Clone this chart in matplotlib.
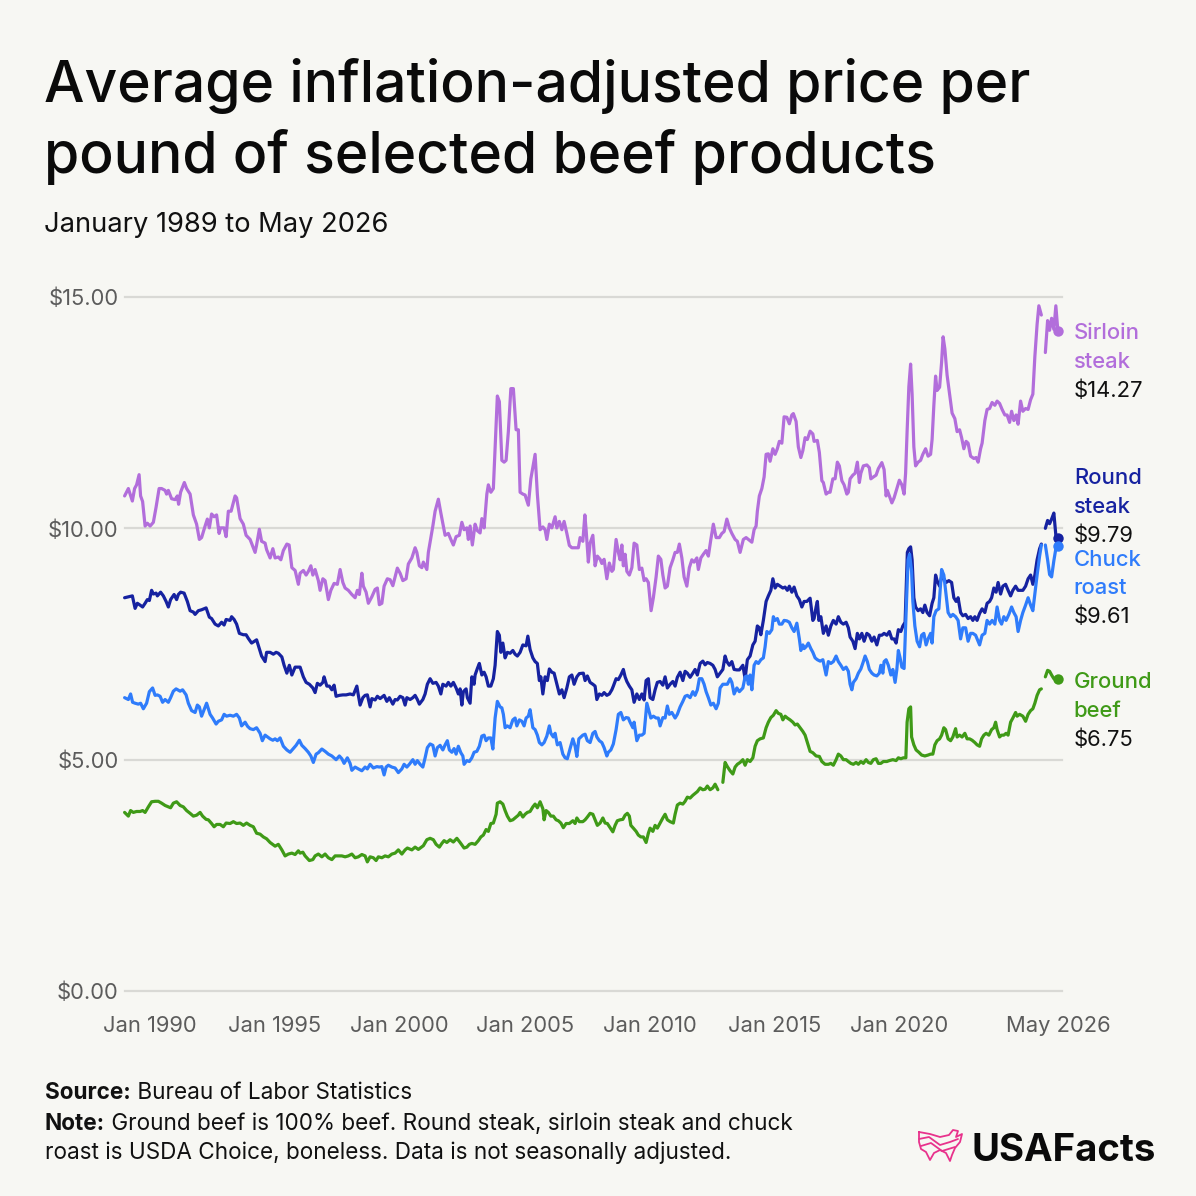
import numpy as np
import matplotlib
matplotlib.use("Agg")
import matplotlib.pyplot as plt
from matplotlib.path import Path
from matplotlib.patches import PathPatch

NAN = np.nan

# ---------------- DATA (decimal year, inflation-adjusted $ per pound) ----------------
sirloin = [
    (1989.00,10.70),(1989.15,10.86),(1989.31,10.59),(1989.40,10.86),(1989.48,10.94),(1989.58,11.16),
    (1989.64,10.70),(1989.72,10.58),(1989.82,10.05),(1989.91,10.11),(1990.02,10.05),(1990.15,10.13),
    (1990.26,10.46),(1990.38,10.86),(1990.48,10.86),(1990.62,10.82),(1990.68,10.74),(1990.75,10.82),
    (1990.88,10.64),(1991.02,10.62),(1991.11,10.70),(1991.16,10.52),(1991.24,10.78),(1991.39,10.99),
    (1991.48,10.86),(1991.62,10.74),(1991.75,10.29),(1991.88,10.09),(1991.99,9.76),(1992.08,9.80),
    (1992.22,10.05),(1992.31,10.20),(1992.39,10.01),(1992.48,10.31),(1992.58,10.25),(1992.68,10.29),
    (1992.78,9.89),(1992.84,10.01),(1992.98,10.01),(1993.06,9.82),(1993.15,10.37),(1993.26,10.37),
    (1993.42,10.70),(1993.48,10.66),(1993.62,10.21),(1993.75,10.09),(1993.86,9.85),(1994.02,9.76),
    (1994.22,9.48),(1994.28,9.64),(1994.39,9.98),(1994.48,9.72),(1994.62,9.68),(1994.68,9.54),
    (1994.82,9.36),(1994.93,9.56),(1995.02,9.36),(1995.15,9.38),(1995.25,9.32),(1995.35,9.52),
    (1995.49,9.66),(1995.58,9.64),(1995.69,9.15),(1995.82,9.09),(1995.95,8.79),(1996.02,9.03),
    (1996.15,9.09),(1996.26,8.99),(1996.35,9.07),(1996.45,9.19),(1996.53,8.99),(1996.62,9.11),
    (1996.75,8.87),(1996.82,8.66),(1996.93,8.91),(1997.02,8.87),(1997.15,8.46),(1997.25,8.66),
    (1997.38,8.81),(1997.51,8.79),(1997.62,9.11),(1997.73,8.83),(1997.82,8.71),(1997.95,8.66),
    (1998.09,8.57),(1998.22,8.50),(1998.31,8.66),(1998.39,8.57),(1998.49,9.03),(1998.55,8.75),
    (1998.66,8.62),(1998.75,8.38),(1998.89,8.52),(1999.02,8.68),(1999.11,8.71),(1999.19,8.35),
    (1999.29,8.38),(1999.38,8.75),(1999.51,8.91),(1999.62,8.89),(1999.73,8.76),(1999.82,8.95),
    (1999.91,9.14),(2000.02,9.03),(2000.13,8.87),(2000.26,8.91),(2000.35,9.23),(2000.49,9.36),
    (2000.62,9.58),(2000.69,9.48),(2000.79,9.19),(2000.89,9.15),(2000.95,9.27),(2001.09,9.11),
    (2001.15,9.48),(2001.25,9.80),(2001.33,10.05),(2001.42,10.37),(2001.55,10.63),(2001.65,10.33),
    (2001.75,10.05),(2001.82,9.85),(2001.95,9.89),(2002.05,9.76),(2002.15,9.64),(2002.26,9.82),
    (2002.39,9.85),(2002.49,10.13),(2002.58,9.97),(2002.69,10.01),(2002.75,9.76),(2002.82,10.05),
    (2002.91,9.64),(2003.02,10.09),(2003.11,9.95),(2003.22,9.90),(2003.29,10.21),(2003.38,10.01),
    (2003.49,10.74),(2003.55,10.94),(2003.65,10.78),(2003.75,10.86),(2003.91,12.86),(2003.99,12.74),
    (2004.09,11.47),(2004.18,11.43),(2004.26,11.47),(2004.35,12.09),(2004.45,13.02),(2004.55,13.02),
    (2004.66,12.13),(2004.75,12.13),(2004.82,10.78),(2004.93,10.74),(2005.02,10.72),(2005.15,10.50),
    (2005.25,11.07),(2005.35,11.39),(2005.42,11.60),(2005.51,10.74),(2005.62,9.97),(2005.73,10.03),
    (2005.82,9.97),(2005.89,9.76),(2005.99,10.09),(2006.09,10.01),(2006.22,10.25),(2006.29,10.01),
    (2006.39,10.15),(2006.49,9.97),(2006.58,10.15),(2006.69,9.89),(2006.79,9.63),(2006.89,9.58),
    (2007.02,9.58),(2007.15,9.58),(2007.22,9.80),(2007.33,9.72),(2007.41,10.29),(2007.46,9.97),
    (2007.55,9.27),(2007.62,9.68),(2007.73,9.85),(2007.82,9.19),(2007.91,9.40),(2008.02,9.33),
    (2008.09,9.24),(2008.18,9.33),(2008.29,8.91),(2008.39,9.25),(2008.49,9.07),(2008.55,9.11),
    (2008.66,9.76),(2008.75,9.48),(2008.82,9.32),(2008.89,9.64),(2008.95,9.19),(2009.02,9.44),
    (2009.09,9.07),(2009.19,8.99),(2009.29,9.15),(2009.38,9.68),(2009.49,9.64),(2009.59,9.11),
    (2009.69,9.14),(2009.78,8.87),(2009.86,8.91),(2009.95,8.83),(2010.06,8.22),(2010.15,8.50),
    (2010.26,8.95),(2010.35,9.40),(2010.45,9.33),(2010.53,8.99),(2010.62,8.71),(2010.71,8.75),
    (2010.82,9.15),(2010.93,9.32),(2011.02,9.48),(2011.11,9.48),(2011.19,9.66),(2011.29,9.36),
    (2011.38,8.95),(2011.49,8.75),(2011.59,9.15),(2011.69,9.32),(2011.78,9.27),(2011.89,9.36),
    (2011.95,9.11),(2012.05,9.36),(2012.15,9.44),(2012.26,9.52),(2012.35,9.40),(2012.45,9.76),
    (2012.55,10.09),(2012.66,9.80),(2012.79,9.80),(2012.89,9.89),(2012.98,9.93),(2013.09,10.20),
    (2013.19,10.01),(2013.29,9.89),(2013.42,9.76),(2013.51,9.72),(2013.62,9.48),(2013.75,9.76),
    (2013.86,9.80),(2013.95,9.76),(2014.09,9.70),(2014.18,9.97),(2014.26,10.05),(2014.31,10.37),
    (2014.39,10.70),(2014.49,10.86),(2014.58,11.11),(2014.66,11.60),(2014.75,11.61),(2014.82,11.45),
    (2014.93,11.72),(2015.02,11.60),(2015.11,11.72),(2015.19,11.88),(2015.29,11.84),(2015.38,12.41),
    (2015.49,12.40),(2015.59,12.26),(2015.69,12.45),(2015.75,12.48),(2015.86,12.31),(2015.95,11.76),
    (2016.05,11.53),(2016.13,11.68),(2016.22,11.96),(2016.31,11.92),(2016.42,12.10),(2016.53,12.04),
    (2016.58,11.88),(2016.71,11.90),(2016.79,11.64),(2016.89,11.03),(2016.95,10.99),(2017.06,10.74),
    (2017.15,10.78),(2017.22,10.78),(2017.33,11.07),(2017.42,11.07),(2017.51,11.43),(2017.59,11.35),
    (2017.69,11.03),(2017.78,10.94),(2017.89,10.74),(2017.95,10.78),(2018.02,11.07),(2018.13,11.15),
    (2018.22,11.19),(2018.31,11.43),(2018.39,10.99),(2018.45,11.19),(2018.55,11.35),(2018.69,11.37),
    (2018.79,11.31),(2018.85,11.07),(2018.95,11.11),(2019.06,11.15),(2019.15,11.29),(2019.29,11.42),
    (2019.38,11.27),(2019.46,10.70),(2019.51,10.82),(2019.59,10.70),(2019.69,10.55),(2019.78,10.66),
    (2019.89,10.86),(2019.99,11.04),(2020.09,10.94),(2020.18,10.74),(2020.24,11.19),(2020.30,12.09),
    (2020.37,13.06),(2020.44,13.55),(2020.50,12.90),(2020.57,11.76),(2020.64,11.35),(2020.74,11.43),
    (2020.84,11.47),(2020.93,11.60),(2021.04,11.72),(2021.14,11.56),(2021.24,11.60),(2021.30,11.92),
    (2021.37,12.66),(2021.44,13.29),(2021.50,12.98),(2021.60,13.05),(2021.68,13.59),(2021.74,14.14),
    (2021.81,13.88),(2021.90,13.31),(2022.00,12.90),(2022.10,12.49),(2022.21,12.37),(2022.30,12.09),
    (2022.40,12.13),(2022.48,11.96),(2022.57,11.72),(2022.66,11.88),(2022.74,11.84),(2022.84,11.56),
    (2022.97,11.51),(2023.06,11.53),(2023.14,11.43),(2023.24,11.72),(2023.30,11.84),(2023.41,12.33),
    (2023.50,12.57),(2023.60,12.59),(2023.70,12.72),(2023.81,12.66),(2023.90,12.75),(2024.00,12.70),
    (2024.10,12.57),(2024.21,12.45),(2024.30,12.45),(2024.40,12.29),(2024.48,12.53),(2024.57,12.33),
    (2024.66,12.45),(2024.74,12.25),(2024.84,12.75),(2024.93,12.53),(2025.04,12.59),(2025.14,12.57),
    (2025.24,12.78),(2025.33,12.90),(2025.41,13.71),(2025.50,14.41),(2025.57,14.81),(2025.67,14.61),
    (2025.75,NAN),
    (2025.83,13.80),(2025.92,14.49),(2026.00,14.28),(2026.08,14.54),(2026.17,14.30),(2026.25,14.81),
    (2026.33,14.27),
]

round_steak = [
    (1989.00,8.50),(1989.15,8.52),(1989.31,8.54),(1989.42,8.27),(1989.51,8.38),(1989.62,8.34),
    (1989.72,8.30),(1989.82,8.38),(1989.91,8.46),(1989.99,8.44),(1990.08,8.66),(1990.15,8.58),
    (1990.26,8.60),(1990.31,8.54),(1990.44,8.62),(1990.55,8.54),(1990.66,8.42),(1990.75,8.30),
    (1990.84,8.46),(1990.98,8.57),(1991.08,8.46),(1991.15,8.57),(1991.24,8.62),(1991.38,8.60),
    (1991.51,8.42),(1991.62,8.22),(1991.75,8.19),(1991.82,8.14),(1991.95,8.22),(1992.08,8.24),
    (1992.26,8.28),(1992.39,8.08),(1992.48,8.05),(1992.62,7.93),(1992.75,7.89),(1992.88,7.97),
    (1992.98,7.91),(1993.06,8.03),(1993.22,8.01),(1993.28,8.09),(1993.38,8.03),(1993.48,7.93),
    (1993.59,7.73),(1993.75,7.70),(1993.86,7.70),(1993.95,7.62),(1994.08,7.52),(1994.28,7.59),
    (1994.39,7.40),(1994.48,7.24),(1994.62,7.12),(1994.68,7.32),(1994.82,7.32),(1994.95,7.28),
    (1995.06,7.32),(1995.15,7.30),(1995.29,7.22),(1995.38,7.04),(1995.49,6.87),(1995.59,7.04),
    (1995.69,6.83),(1995.82,7.00),(1995.91,7.00),(1996.02,7.00),(1996.15,6.79),(1996.26,6.67),
    (1996.39,6.63),(1996.53,6.55),(1996.62,6.45),(1996.71,6.65),(1996.82,6.61),(1996.93,6.67),
    (1996.98,6.79),(1997.09,6.59),(1997.19,6.59),(1997.29,6.51),(1997.38,6.61),(1997.46,6.37),
    (1997.59,6.39),(1997.73,6.40),(1997.86,6.40),(1998.02,6.42),(1998.15,6.40),(1998.29,6.59),
    (1998.35,6.39),(1998.42,6.18),(1998.53,6.34),(1998.62,6.39),(1998.71,6.40),(1998.82,6.14),
    (1998.89,6.32),(1999.02,6.29),(1999.11,6.37),(1999.22,6.32),(1999.38,6.39),(1999.49,6.26),
    (1999.59,6.34),(1999.73,6.20),(1999.82,6.30),(1999.91,6.29),(2000.02,6.37),(2000.13,6.34),
    (2000.22,6.18),(2000.29,6.34),(2000.42,6.30),(2000.53,6.34),(2000.62,6.39),(2000.71,6.30),
    (2000.79,6.20),(2000.93,6.30),(2001.02,6.42),(2001.11,6.63),(2001.22,6.75),(2001.33,6.65),
    (2001.46,6.67),(2001.55,6.59),(2001.65,6.42),(2001.73,6.63),(2001.86,6.59),(2001.95,6.67),
    (2002.05,6.59),(2002.15,6.67),(2002.26,6.55),(2002.35,6.42),(2002.42,6.53),(2002.49,6.18),
    (2002.55,6.47),(2002.66,6.53),(2002.71,6.34),(2002.82,6.22),(2002.89,6.79),(2002.98,6.63),
    (2003.02,6.83),(2003.11,6.97),(2003.19,7.08),(2003.29,6.83),(2003.38,6.89),(2003.46,6.79),
    (2003.55,6.59),(2003.65,6.59),(2003.75,6.75),(2003.82,7.04),(2003.91,7.77),(2003.99,7.69),
    (2004.05,7.32),(2004.13,7.52),(2004.22,7.20),(2004.31,7.32),(2004.42,7.30),(2004.53,7.36),
    (2004.62,7.28),(2004.71,7.24),(2004.82,7.32),(2004.93,7.48),(2005.06,7.46),(2005.13,7.67),
    (2005.22,7.38),(2005.33,7.20),(2005.42,7.12),(2005.51,7.08),(2005.59,6.71),(2005.65,6.79),
    (2005.73,6.42),(2005.82,6.79),(2005.91,6.71),(2005.99,6.96),(2006.09,6.89),(2006.18,6.87),
    (2006.29,6.63),(2006.39,6.42),(2006.49,6.51),(2006.58,6.34),(2006.69,6.55),(2006.79,6.79),
    (2006.89,6.83),(2006.98,6.63),(2007.09,6.79),(2007.19,6.86),(2007.35,6.87),(2007.42,6.71),
    (2007.51,6.81),(2007.62,6.67),(2007.73,6.63),(2007.82,6.59),(2007.89,6.30),(2007.99,6.42),
    (2008.09,6.39),(2008.18,6.45),(2008.29,6.39),(2008.39,6.42),(2008.49,6.51),(2008.55,6.59),
    (2008.66,6.75),(2008.75,6.73),(2008.85,6.83),(2008.95,6.95),(2009.02,6.79),(2009.09,6.69),
    (2009.19,6.59),(2009.29,6.51),(2009.38,6.24),(2009.49,6.42),(2009.59,6.30),(2009.69,6.42),
    (2009.78,6.29),(2009.86,6.71),(2009.95,6.75),(2010.02,6.34),(2010.13,6.30),(2010.22,6.51),
    (2010.31,6.67),(2010.42,6.69),(2010.53,6.61),(2010.62,6.79),(2010.71,6.55),(2010.82,6.63),
    (2010.93,6.69),(2011.02,6.59),(2011.11,6.78),(2011.22,6.89),(2011.33,6.71),(2011.42,6.91),
    (2011.51,6.87),(2011.62,6.78),(2011.73,6.87),(2011.82,6.95),(2011.91,6.83),(2012.02,7.08),
    (2012.13,7.13),(2012.22,7.05),(2012.31,7.10),(2012.42,7.08),(2012.53,7.04),(2012.62,6.95),
    (2012.71,6.79),(2012.82,6.87),(2012.93,6.95),(2013.02,7.24),(2013.09,7.12),(2013.19,7.04),
    (2013.29,7.12),(2013.38,6.95),(2013.49,6.94),(2013.59,6.94),(2013.73,7.04),(2013.82,6.75),
    (2013.91,7.16),(2014.02,7.24),(2014.13,7.48),(2014.22,7.56),(2014.31,7.89),(2014.39,7.85),
    (2014.45,7.70),(2014.55,8.01),(2014.66,8.42),(2014.75,8.54),(2014.85,8.66),(2014.93,8.91),
    (2015.02,8.71),(2015.11,8.79),(2015.22,8.75),(2015.33,8.71),(2015.42,8.73),(2015.51,8.66),
    (2015.59,8.75),(2015.69,8.62),(2015.78,8.73),(2015.89,8.54),(2015.99,8.46),(2016.09,8.30),
    (2016.18,8.42),(2016.29,8.42),(2016.42,8.49),(2016.53,8.01),(2016.58,8.05),(2016.66,8.30),
    (2016.71,8.42),(2016.77,8.01),(2016.85,8.09),(2016.95,7.73),(2017.06,7.89),(2017.15,7.69),
    (2017.25,7.89),(2017.35,8.01),(2017.46,7.93),(2017.55,8.09),(2017.65,7.97),(2017.75,7.93),
    (2017.86,7.97),(2017.95,7.85),(2018.02,7.65),(2018.13,7.56),(2018.22,7.40),(2018.31,7.73),
    (2018.39,7.61),(2018.49,7.73),(2018.58,7.56),(2018.69,7.73),(2018.79,7.69),(2018.89,7.56),
    (2018.98,7.65),(2019.09,7.48),(2019.19,7.69),(2019.29,7.69),(2019.38,7.73),(2019.49,7.69),
    (2019.59,7.77),(2019.69,7.61),(2019.78,7.61),(2019.86,7.52),(2019.95,7.81),(2020.05,7.77),
    (2020.13,7.89),(2020.22,7.97),(2020.26,8.66),(2020.31,9.48),(2020.37,9.56),(2020.44,9.60),
    (2020.50,9.32),(2020.57,8.50),(2020.64,8.30),(2020.74,8.22),(2020.84,8.26),(2020.93,8.18),
    (2021.01,8.34),(2021.10,8.18),(2021.20,8.11),(2021.30,8.38),(2021.37,8.50),(2021.44,8.99),
    (2021.50,8.87),(2021.60,8.75),(2021.68,8.95),(2021.77,8.91),(2021.86,8.83),(2021.97,8.87),
    (2022.08,8.83),(2022.17,8.50),(2022.26,8.42),(2022.34,8.50),(2022.44,8.18),(2022.53,8.11),
    (2022.64,8.14),(2022.74,8.05),(2022.84,8.09),(2022.93,8.01),(2023.01,8.09),(2023.10,8.01),
    (2023.20,8.16),(2023.30,8.26),(2023.41,8.18),(2023.50,8.38),(2023.60,8.42),(2023.68,8.50),
    (2023.77,8.71),(2023.86,8.62),(2023.94,8.83),(2024.04,8.58),(2024.13,8.75),(2024.24,8.79),
    (2024.34,8.66),(2024.44,8.54),(2024.53,8.66),(2024.64,8.75),(2024.74,8.66),(2024.84,8.66),
    (2024.93,8.66),(2025.04,8.75),(2025.14,8.91),(2025.24,8.99),(2025.33,8.79),(2025.41,8.99),
    (2025.50,9.32),(2025.60,9.56),(2025.67,9.66),
    (2025.75,NAN),
    (2025.83,10.00),(2025.92,10.17),(2026.00,10.10),(2026.08,10.20),(2026.17,10.33),(2026.25,9.85),
    (2026.33,9.79),
]

chuck_roast = [
    (1989.00,6.34),(1989.15,6.30),(1989.24,6.42),(1989.32,6.24),(1989.42,6.22),(1989.55,6.20),
    (1989.64,6.22),(1989.75,6.10),(1989.88,6.22),(1989.99,6.47),(1990.12,6.55),(1990.22,6.39),
    (1990.31,6.40),(1990.42,6.37),(1990.52,6.24),(1990.62,6.30),(1990.75,6.24),(1990.84,6.34),
    (1990.95,6.48),(1991.06,6.53),(1991.22,6.48),(1991.32,6.51),(1991.46,6.40),(1991.55,6.22),
    (1991.68,6.06),(1991.82,6.02),(1991.91,6.18),(1991.99,6.14),(1992.08,5.94),(1992.18,6.08),
    (1992.28,6.22),(1992.42,5.98),(1992.52,5.90),(1992.66,5.77),(1992.75,5.83),(1992.88,5.86),
    (1992.98,5.98),(1993.08,5.94),(1993.22,5.96),(1993.35,5.94),(1993.48,5.98),(1993.59,5.90),
    (1993.68,5.73),(1993.82,5.81),(1993.92,5.72),(1994.02,5.67),(1994.15,5.65),(1994.28,5.69),
    (1994.42,5.57),(1994.51,5.41),(1994.62,5.53),(1994.82,5.45),(1994.93,5.42),(1995.02,5.45),
    (1995.11,5.41),(1995.22,5.47),(1995.35,5.29),(1995.49,5.21),(1995.62,5.16),(1995.75,5.24),
    (1995.86,5.31),(1995.99,5.42),(1996.09,5.31),(1996.22,5.24),(1996.35,5.16),(1996.45,5.08),
    (1996.55,4.94),(1996.66,5.12),(1996.75,5.15),(1996.89,5.23),(1997.02,5.18),(1997.15,5.12),
    (1997.29,5.08),(1997.46,5.00),(1997.59,5.08),(1997.69,5.02),(1997.78,4.92),(1997.91,5.04),
    (1998.02,4.92),(1998.09,4.77),(1998.22,4.84),(1998.35,4.80),(1998.49,4.76),(1998.62,4.84),
    (1998.71,4.80),(1998.82,4.90),(1998.95,4.82),(1999.09,4.85),(1999.19,4.84),(1999.29,4.85),
    (1999.38,4.67),(1999.46,4.84),(1999.55,4.88),(1999.69,4.84),(1999.82,4.82),(1999.95,4.72),
    (2000.09,4.80),(2000.18,4.90),(2000.29,4.84),(2000.39,4.90),(2000.53,5.00),(2000.62,4.90),
    (2000.71,4.98),(2000.82,4.90),(2000.93,4.84),(2001.02,5.04),(2001.11,5.26),(2001.22,5.34),
    (2001.33,5.31),(2001.42,5.08),(2001.51,5.26),(2001.62,5.31),(2001.73,5.21),(2001.82,5.32),
    (2001.91,5.41),(2001.99,5.21),(2002.09,5.16),(2002.18,5.24),(2002.26,5.12),(2002.35,5.29),
    (2002.45,5.15),(2002.53,5.08),(2002.58,4.90),(2002.69,4.98),(2002.79,4.96),(2002.89,5.04),
    (2002.98,5.16),(2003.09,5.18),(2003.19,5.29),(2003.29,5.51),(2003.38,5.53),(2003.46,5.41),
    (2003.55,5.47),(2003.65,5.47),(2003.73,5.23),(2003.82,5.90),(2003.91,6.26),(2004.02,6.14),
    (2004.09,6.12),(2004.15,5.98),(2004.22,5.69),(2004.31,5.73),(2004.42,5.69),(2004.53,5.86),
    (2004.62,5.90),(2004.69,5.73),(2004.79,5.86),(2004.89,5.83),(2004.98,5.73),(2005.06,5.90),
    (2005.15,5.94),(2005.22,6.08),(2005.33,5.69),(2005.42,5.65),(2005.51,5.53),(2005.59,5.37),
    (2005.69,5.32),(2005.78,5.37),(2005.89,5.51),(2005.99,5.73),(2006.05,5.57),(2006.15,5.49),
    (2006.22,5.57),(2006.31,5.32),(2006.42,5.37),(2006.53,5.12),(2006.62,5.04),(2006.71,5.02),
    (2006.82,5.24),(2006.93,5.45),(2007.02,5.29),(2007.09,5.07),(2007.17,5.45),(2007.33,5.53),
    (2007.42,5.55),(2007.51,5.41),(2007.62,5.37),(2007.73,5.57),(2007.82,5.61),(2007.89,5.49),
    (2007.99,5.41),(2008.09,5.37),(2008.18,5.26),(2008.29,5.08),(2008.35,5.16),(2008.45,5.21),
    (2008.55,5.34),(2008.66,5.65),(2008.75,5.98),(2008.85,6.02),(2008.95,5.86),(2009.06,5.91),
    (2009.15,5.90),(2009.22,5.81),(2009.33,5.69),(2009.38,5.81),(2009.49,5.41),(2009.59,5.53),
    (2009.69,5.53),(2009.78,5.57),(2009.89,6.22),(2009.95,6.10),(2010.05,5.90),(2010.15,5.94),
    (2010.26,5.90),(2010.35,5.90),(2010.42,5.73),(2010.53,5.91),(2010.62,5.90),(2010.71,6.16),
    (2010.79,5.98),(2010.89,6.02),(2011.02,5.90),(2011.11,5.98),(2011.22,6.14),(2011.33,6.26),
    (2011.42,6.37),(2011.51,6.39),(2011.62,6.34),(2011.73,6.47),(2011.82,6.39),(2011.91,6.51),
    (2011.99,6.75),(2012.09,6.75),(2012.18,6.63),(2012.26,6.47),(2012.35,6.34),(2012.45,6.18),
    (2012.55,6.22),(2012.66,6.10),(2012.75,6.22),(2012.82,6.55),(2012.93,6.63),(2013.02,6.63),
    (2013.11,6.63),(2013.22,6.75),(2013.29,6.67),(2013.38,6.42),(2013.49,6.55),(2013.59,6.47),
    (2013.73,6.55),(2013.82,6.79),(2013.89,6.81),(2013.95,6.63),(2014.02,6.83),(2014.09,6.51),
    (2014.18,7.04),(2014.26,7.12),(2014.35,7.08),(2014.45,7.16),(2014.55,7.20),(2014.62,7.44),
    (2014.69,7.77),(2014.79,7.73),(2014.89,7.81),(2014.95,8.09),(2015.02,8.01),(2015.11,8.05),
    (2015.19,7.93),(2015.29,7.93),(2015.38,8.01),(2015.49,8.00),(2015.59,7.97),(2015.69,7.85),
    (2015.78,7.77),(2015.89,7.95),(2015.99,7.61),(2016.05,7.36),(2016.13,7.48),(2016.18,7.40),
    (2016.26,7.44),(2016.35,7.52),(2016.45,7.40),(2016.53,7.32),(2016.62,7.20),(2016.71,7.16),
    (2016.82,7.13),(2016.93,7.16),(2017.06,6.83),(2017.15,7.12),(2017.25,7.08),(2017.35,7.12),
    (2017.46,7.24),(2017.55,7.12),(2017.65,7.04),(2017.75,6.95),(2017.86,7.00),(2017.95,6.91),
    (2018.02,6.63),(2018.09,6.51),(2018.15,6.67),(2018.26,6.75),(2018.35,6.87),(2018.45,6.96),
    (2018.55,7.12),(2018.62,7.24),(2018.71,7.12),(2018.79,6.95),(2018.89,6.87),(2018.98,6.83),
    (2019.09,6.81),(2019.19,6.87),(2019.25,7.04),(2019.33,6.87),(2019.38,7.12),(2019.46,7.16),
    (2019.55,7.04),(2019.65,6.83),(2019.73,6.95),(2019.82,6.67),(2019.89,6.95),(2019.95,7.36),
    (2020.02,7.20),(2020.09,7.00),(2020.18,6.97),(2020.26,8.18),(2020.34,9.32),(2020.40,9.44),
    (2020.48,9.07),(2020.53,8.42),(2020.61,7.89),(2020.70,7.56),(2020.80,7.44),(2020.88,7.69),
    (2020.97,7.73),(2021.06,7.48),(2021.14,7.61),(2021.24,7.73),(2021.30,7.52),(2021.37,8.09),
    (2021.46,8.22),(2021.57,8.26),(2021.68,9.11),(2021.77,8.99),(2021.84,8.66),(2021.94,8.18),
    (2022.04,8.09),(2022.13,8.14),(2022.24,8.09),(2022.34,8.01),(2022.44,7.61),(2022.53,7.85),
    (2022.64,7.85),(2022.74,7.56),(2022.84,7.73),(2022.93,7.73),(2023.04,7.69),(2023.10,7.61),
    (2023.20,7.48),(2023.30,7.69),(2023.41,7.73),(2023.50,8.01),(2023.60,7.93),(2023.70,8.01),
    (2023.81,7.93),(2023.90,8.30),(2024.00,8.01),(2024.08,7.93),(2024.17,8.09),(2024.26,8.01),
    (2024.37,8.14),(2024.48,8.30),(2024.57,8.18),(2024.66,8.09),(2024.74,7.77),(2024.84,8.01),
    (2024.93,8.18),(2025.04,8.34),(2025.14,8.50),(2025.24,8.34),(2025.33,8.22),(2025.41,8.58),
    (2025.50,8.99),(2025.60,9.40),(2025.67,9.64),
    (2025.75,NAN),
    (2025.83,9.64),(2025.92,9.32),(2026.00,9.00),(2026.08,8.95),(2026.17,9.30),(2026.25,9.56),
    (2026.33,9.61),
]

ground_beef = [
    (1989.00,3.86),(1989.15,3.78),(1989.24,3.90),(1989.35,3.86),(1989.48,3.88),(1989.62,3.88),
    (1989.72,3.90),(1989.82,3.86),(1989.95,3.98),(1990.08,4.09),(1990.22,4.10),(1990.35,4.10),
    (1990.48,4.06),(1990.62,4.01),(1990.75,3.98),(1990.84,3.96),(1990.95,4.06),(1991.08,4.09),
    (1991.22,4.01),(1991.35,3.98),(1991.48,3.90),(1991.62,3.84),(1991.75,3.78),(1991.88,3.80),
    (1992.02,3.86),(1992.12,3.78),(1992.26,3.71),(1992.35,3.70),(1992.48,3.62),(1992.58,3.55),
    (1992.68,3.60),(1992.82,3.60),(1992.95,3.55),(1993.06,3.63),(1993.22,3.62),(1993.35,3.66),
    (1993.48,3.62),(1993.62,3.63),(1993.75,3.58),(1993.88,3.63),(1994.02,3.58),(1994.15,3.55),
    (1994.28,3.41),(1994.42,3.39),(1994.55,3.33),(1994.68,3.29),(1994.82,3.21),(1995.02,3.13),
    (1995.15,3.17),(1995.29,3.05),(1995.42,2.92),(1995.55,2.96),(1995.69,2.98),(1995.82,2.95),
    (1995.95,3.03),(1996.02,2.98),(1996.13,3.00),(1996.22,2.92),(1996.39,2.82),(1996.53,2.84),
    (1996.62,2.92),(1996.75,2.96),(1996.89,2.90),(1997.02,2.96),(1997.15,2.88),(1997.29,2.84),
    (1997.42,2.92),(1997.55,2.92),(1997.69,2.92),(1997.82,2.90),(1997.95,2.92),(1998.09,2.96),
    (1998.22,2.88),(1998.35,2.90),(1998.49,2.95),(1998.62,2.92),(1998.71,2.79),(1998.82,2.90),
    (1998.95,2.88),(1999.06,2.82),(1999.15,2.90),(1999.29,2.88),(1999.42,2.92),(1999.55,2.90),
    (1999.69,2.96),(1999.82,2.98),(1999.95,3.05),(2000.09,2.96),(2000.22,3.05),(2000.31,3.09),
    (2000.49,3.05),(2000.62,3.11),(2000.75,3.06),(2000.95,3.14),(2001.09,3.27),(2001.22,3.30),
    (2001.35,3.27),(2001.46,3.17),(2001.59,3.11),(2001.69,3.19),(2001.78,3.25),(2001.89,3.21),
    (2002.02,3.27),(2002.15,3.22),(2002.29,3.30),(2002.42,3.21),(2002.58,3.09),(2002.69,3.11),
    (2002.79,3.17),(2002.89,3.19),(2003.02,3.17),(2003.15,3.25),(2003.25,3.33),(2003.35,3.37),
    (2003.46,3.49),(2003.55,3.45),(2003.65,3.62),(2003.75,3.63),(2003.86,3.82),(2003.91,4.06),
    (2004.02,4.09),(2004.13,4.04),(2004.22,3.90),(2004.31,3.78),(2004.42,3.68),(2004.53,3.70),
    (2004.62,3.74),(2004.75,3.80),(2004.82,3.86),(2004.93,3.76),(2005.02,3.82),(2005.11,3.86),
    (2005.22,3.88),(2005.33,3.98),(2005.42,4.04),(2005.51,3.96),(2005.62,4.09),(2005.73,3.94),
    (2005.78,3.70),(2005.86,3.90),(2005.95,3.86),(2006.05,3.78),(2006.15,3.78),(2006.26,3.70),
    (2006.35,3.68),(2006.45,3.63),(2006.55,3.53),(2006.66,3.62),(2006.79,3.62),(2006.93,3.68),
    (2007.02,3.62),(2007.09,3.74),(2007.19,3.66),(2007.33,3.66),(2007.42,3.70),(2007.51,3.76),
    (2007.62,3.84),(2007.73,3.82),(2007.82,3.70),(2007.91,3.58),(2008.02,3.63),(2008.13,3.74),
    (2008.22,3.63),(2008.31,3.62),(2008.42,3.53),(2008.53,3.44),(2008.62,3.58),(2008.71,3.68),
    (2008.82,3.70),(2008.93,3.71),(2009.02,3.80),(2009.11,3.84),(2009.19,3.78),(2009.25,3.58),
    (2009.35,3.52),(2009.46,3.45),(2009.55,3.37),(2009.65,3.33),(2009.75,3.33),(2009.86,3.21),
    (2009.95,3.41),(2010.02,3.52),(2010.13,3.45),(2010.22,3.58),(2010.31,3.52),(2010.42,3.63),
    (2010.53,3.74),(2010.62,3.82),(2010.71,3.70),(2010.82,3.66),(2010.95,3.63),(2011.02,3.82),
    (2011.11,4.02),(2011.22,4.06),(2011.33,4.04),(2011.42,4.10),(2011.51,4.19),(2011.62,4.17),
    (2011.73,4.23),(2011.82,4.27),(2011.91,4.31),(2012.02,4.39),(2012.13,4.35),(2012.22,4.36),
    (2012.31,4.43),(2012.42,4.35),(2012.53,4.39),(2012.62,4.47),(2012.73,4.35),
    (2012.83,NAN),
    (2012.93,4.51),(2013.02,4.94),(2013.11,4.85),(2013.22,4.76),(2013.33,4.69),(2013.42,4.84),
    (2013.51,4.90),(2013.62,4.94),(2013.73,5.00),(2013.82,4.88),(2013.91,5.00),(2014.02,4.96),
    (2014.13,5.04),(2014.22,5.29),(2014.31,5.41),(2014.42,5.45),(2014.55,5.47),(2014.66,5.69),
    (2014.75,5.81),(2014.85,5.91),(2014.95,5.96),(2015.06,6.06),(2015.15,6.00),(2015.25,5.98),
    (2015.33,5.86),(2015.42,5.94),(2015.51,5.90),(2015.62,5.86),(2015.73,5.81),(2015.82,5.75),
    (2015.91,5.77),(2016.02,5.69),(2016.13,5.61),(2016.22,5.53),(2016.29,5.41),(2016.42,5.18),
    (2016.53,5.15),(2016.66,5.08),(2016.79,5.07),(2016.89,4.96),(2017.02,4.90),(2017.15,4.90),
    (2017.25,4.92),(2017.35,4.88),(2017.46,5.00),(2017.55,5.12),(2017.65,5.08),(2017.75,5.00),
    (2017.86,5.00),(2017.95,4.96),(2018.05,4.92),(2018.15,4.90),(2018.26,4.94),(2018.35,4.90),
    (2018.45,4.96),(2018.55,4.92),(2018.66,5.00),(2018.75,4.94),(2018.85,4.92),(2018.95,5.00),
    (2019.06,5.02),(2019.15,4.92),(2019.25,4.92),(2019.35,4.96),(2019.49,4.96),(2019.59,4.98),
    (2019.73,5.00),(2019.86,4.98),(2019.95,5.04),(2020.05,5.02),(2020.15,5.04),(2020.25,5.04),
    (2020.30,5.81),(2020.37,6.10),(2020.44,6.14),(2020.48,5.49),(2020.57,5.32),(2020.66,5.21),
    (2020.77,5.16),(2020.88,5.10),(2021.01,5.08),(2021.14,5.10),(2021.24,5.12),(2021.33,5.12),
    (2021.41,5.32),(2021.50,5.41),(2021.60,5.45),(2021.68,5.53),(2021.77,5.69),(2021.84,5.65),
    (2021.94,5.45),(2022.04,5.41),(2022.13,5.49),(2022.24,5.67),(2022.30,5.49),(2022.40,5.53),
    (2022.50,5.49),(2022.61,5.57),(2022.70,5.45),(2022.80,5.45),(2022.90,5.42),(2023.01,5.37),
    (2023.10,5.32),(2023.20,5.29),(2023.28,5.45),(2023.37,5.53),(2023.46,5.57),(2023.57,5.53),
    (2023.68,5.65),(2023.77,5.69),(2023.84,5.81),(2023.90,5.65),(2024.00,5.49),(2024.08,5.53),
    (2024.17,5.53),(2024.26,5.57),(2024.34,5.53),(2024.44,5.81),(2024.53,5.90),(2024.64,6.02),
    (2024.70,5.94),(2024.80,5.98),(2024.93,5.94),(2025.04,5.83),(2025.14,5.98),(2025.24,6.06),
    (2025.33,6.10),(2025.41,6.22),(2025.50,6.39),(2025.60,6.51),(2025.67,6.53),
    (2025.75,NAN),
    (2025.83,6.79),(2025.92,6.93),(2026.00,6.91),(2026.08,6.83),(2026.17,6.75),(2026.25,6.73),
    (2026.33,6.75),
]

series_names = [["Sirloin", "steak"], ["Round", "steak"], ["Chuck", "roast"], ["Ground", "beef"]]
series_data = [sirloin, round_steak, chuck_roast, ground_beef]
end_labels = ["$14.27", "$9.79", "$9.61", "$6.75"]

y_ticks = [0, 5, 10, 15]
y_tick_labels = ["$0.00", "$5.00", "$10.00", "$15.00"]
x_ticks = [1990, 1995, 2000, 2005, 2010, 2015, 2020, 2026.33]
x_tick_labels = ["Jan 1990", "Jan 1995", "Jan 2000", "Jan 2005", "Jan 2010",
                 "Jan 2015", "Jan 2020", "May 2026"]

TITLE = ["Average inflation-adjusted price per", "pound of selected beef products"]
SUBTITLE = "January 1989 to May 2026"
SOURCE = ("Source:", " Bureau of Labor Statistics")
NOTE = ("Note:", " Ground beef is 100% beef. Round steak, sirloin steak and chuck",
        "roast is USDA Choice, boneless. Data is not seasonally adjusted.")

# ---------------- STYLE ----------------
BG = "#F7F7F3"
GRID = "#D9D9D5"
TICK_C = "#5C5C5C"
COLORS = ["#B26EDB", "#1622A0", "#2F7CFB", "#3F9A17"]
FONT = ["Inter", "DejaVu Sans"]
plt.rcParams["font.family"] = FONT

W = H = 1196
fig = plt.figure(figsize=(W / 100, H / 100), dpi=100, facecolor=BG)
renderer = fig.canvas.get_renderer()


def fx(px):
    return px / W


def fy(py):
    return 1 - py / H


def text_w(s, size, weight="normal"):
    t = fig.text(0, 0, s, fontsize=size, weight=weight)
    w = t.get_window_extent(renderer).width
    t.remove()
    return w


def fit_size(s, target, weight="normal"):
    return 20 * target / text_w(s, 20, weight)


# axes placement: Jan 1989 at x=124.6px, 25 px per year; $0 at y=991, $15 at y=297
ax_left, ax_right, ax_top, ax_bottom = 124.6, 1062.0, 297.0, 991.0
ax = fig.add_axes([fx(ax_left), fy(ax_bottom), (ax_right - ax_left) / W, (ax_bottom - ax_top) / H])
ax.set_facecolor(BG)
ax.set_xlim(1989.0, 1989.0 + (ax_right - ax_left) / 25.0)
ax.set_ylim(0, 15)
for s in ax.spines.values():
    s.set_visible(False)

for v in y_ticks:
    ax.axhline(v, color=GRID, lw=1.6, zorder=0, clip_on=False)

tick_size = fit_size("Jan 1990", 94)
ax.set_yticks(y_ticks, y_tick_labels)
ax.set_xticks(x_ticks, x_tick_labels)
ax.tick_params(axis="both", length=0, colors=TICK_C, labelsize=tick_size)
ax.tick_params(axis="y", pad=4.3)
ax.tick_params(axis="x", pad=18)
# the last label sits a little right of its date in the reference
ax.get_xticklabels()[-1].set_x(2026.33)
for lbl in ax.get_xticklabels()[-1:]:
    lbl.set_horizontalalignment("center")

# lines
for data, col in zip(series_data, COLORS):
    xs = np.array([p[0] for p in data])
    ys = np.array([p[1] for p in data])
    ax.plot(xs, ys, color=col, lw=2.3, solid_joinstyle="round", solid_capstyle="round",
            clip_on=False, zorder=3)
    ax.plot(xs[-1], ys[-1], "o", color=col, ms=7.5, mec="none", clip_on=False, zorder=4)

# end labels (baseline offsets in pixels from the end dot)
label_size = fit_size("Sirloin", 66, "medium")
first_offsets = [-8.6, 53.7, -19.4, -9.6]
line_gap = 28.7
for data, col, names, val, off in zip(series_data, COLORS, series_names, end_labels, first_offsets):
    xe, ye = data[-1]
    lines = [(names[0], col, "medium"), (names[1], col, "medium"), (val, "#111111", "normal")]
    for i, (txt, c, wgt) in enumerate(lines):
        ax.annotate(txt, xy=(xe, ye), xytext=(16, off - i * line_gap), textcoords="offset pixels",
                    ha="left", va="baseline", color=c, fontsize=label_size, weight=wgt,
                    annotation_clip=False)

# title & subtitle
title_size = fit_size(TITLE[0], 985, "medium")
fig.text(fx(44), fy(102), TITLE[0], fontsize=title_size, weight="medium", color="#0A0A0A", va="baseline")
fig.text(fx(44), fy(173), TITLE[1], fontsize=title_size, weight="medium", color="#0A0A0A", va="baseline")
sub_size = fit_size(SUBTITLE, 345)
fig.text(fx(44), fy(232), SUBTITLE, fontsize=sub_size, color="#111111", va="baseline")

# footer
foot_size = fit_size(NOTE[0] + NOTE[1], 745)


def bold_prefix(x, ybase, bold, rest):
    t = fig.text(fx(x), fy(ybase), bold, fontsize=foot_size, weight="bold", color="#111111", va="baseline")
    w = t.get_window_extent(renderer).width
    fig.text(fx(x + w), fy(ybase), rest, fontsize=foot_size, color="#111111", va="baseline")


bold_prefix(45, 1099, SOURCE[0], SOURCE[1])
bold_prefix(45, 1130, NOTE[0], NOTE[1])
fig.text(fx(45), fy(1159), NOTE[2], fontsize=foot_size, color="#111111", va="baseline")

# logo
logo_size = fit_size("USAFacts", 185, "bold")
fig.text(fx(971), fy(1161), "USAFacts", fontsize=logo_size, weight="bold", color="#0A0A0A", va="baseline")
PINK = "#E8328C"
outline = [(919, 1132), (930, 1134), (940, 1137), (949, 1135), (953, 1130), (958, 1131), (956, 1137),
           (962, 1134), (960, 1142), (955, 1148), (952, 1155), (950, 1161), (946, 1153), (940, 1150),
           (934, 1153), (930, 1160), (926, 1152), (921, 1149), (919, 1142), (919, 1132)]
waves = [[(919, 1139), (929, 1137), (940, 1145), (950, 1142), (958, 1139)],
         [(921, 1146), (931, 1143), (942, 1151), (955, 1147)]]
for pts in [outline] + waves:
    verts = [(fx(a), fy(b)) for a, b in pts]
    p = Path(verts)
    fig.patches.append(PathPatch(p, transform=fig.transFigure, fill=False, ec=PINK, lw=1.3,
                                 joinstyle="round", capstyle="round"))

fig.savefig("out.png", dpi=100, facecolor=BG)
